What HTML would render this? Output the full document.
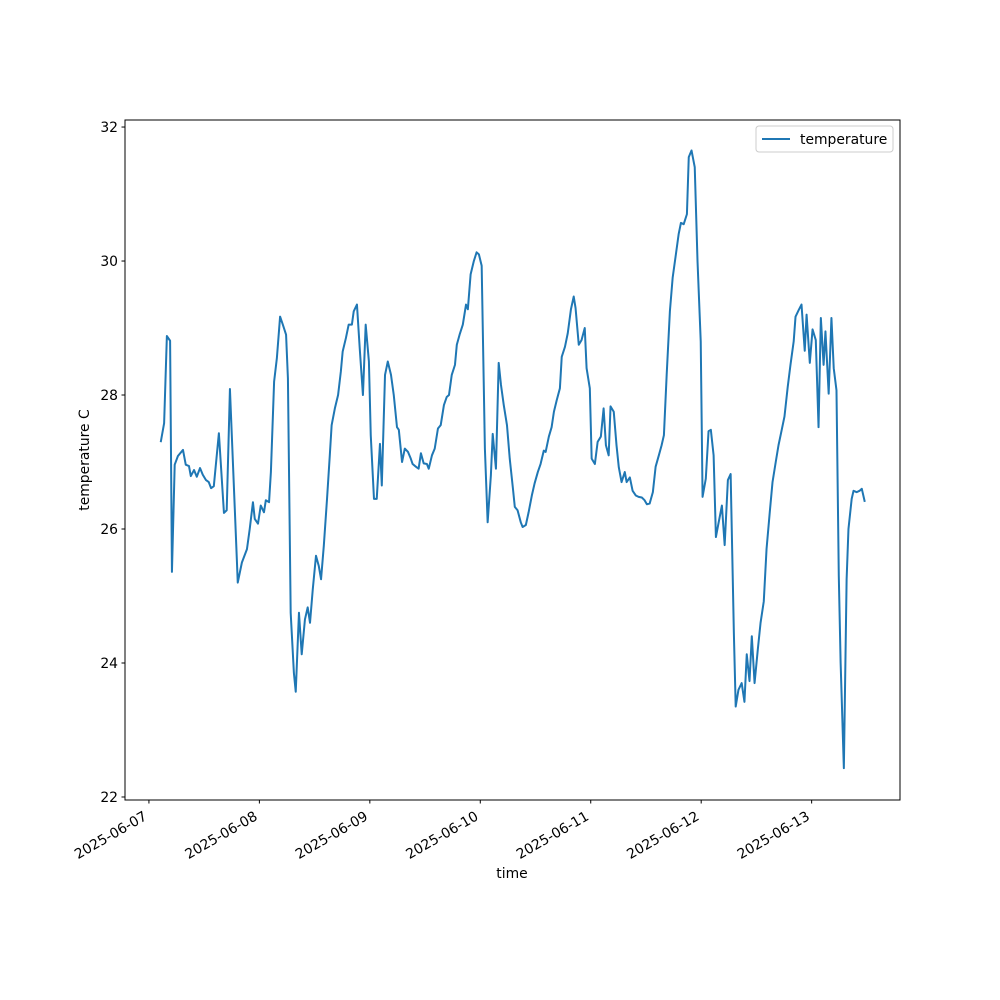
<!DOCTYPE html>
<html><head><meta charset="utf-8"><style>
body{margin:0;background:#fff}
svg{display:block;font-family:"DejaVu Sans","Liberation Sans",sans-serif}
</style></head><body>
<svg id="chart" width="1000" height="1000" viewBox="0 0 1000 1000">
<rect width="1000" height="1000" fill="#fff"/>
<g id="plot"></g>
</svg>
<script>
const dayLabels=["2025-06-07","2025-06-08","2025-06-09","2025-06-10","2025-06-11","2025-06-12","2025-06-13"];
const yTicks=[22,24,26,28,30,32];
const hours=[2.6,3.3,3.9,4.6,5.0,5.6,6.3,7.4,8.0,8.7,9.1,9.8,10.4,11.1,11.7,12.4,13.0,13.5,14.1,15.2,16.3,16.9,17.6,19.1,19.3,20.2,21.3,21.9,22.6,23.0,23.7,24.3,25.0,25.4,26.1,26.5,27.2,27.8,28.5,29.1,29.8,30.2,30.8,31.5,31.9,32.6,33.2,33.9,34.5,35.0,35.6,36.3,36.9,37.4,38.0,38.7,39.3,39.7,40.4,41.1,41.7,42.1,42.8,43.4,44.1,44.5,45.2,45.8,46.5,47.1,47.8,48.2,48.9,49.5,50.2,50.6,51.3,51.9,52.6,53.2,53.9,54.3,55.0,55.6,56.3,56.9,57.3,58.0,58.6,59.1,59.7,60.4,60.8,61.5,62.1,62.8,63.4,64.1,64.7,65.2,65.8,66.5,66.9,67.5,68.2,68.9,69.3,69.9,70.6,71.2,71.7,72.3,73.0,73.6,74.3,74.7,75.4,76.0,76.5,77.1,77.8,78.4,79.1,79.5,80.1,80.8,81.2,81.9,82.5,83.2,83.8,84.5,85.1,85.8,86.2,86.9,87.5,88.0,88.6,89.3,89.7,90.4,91.0,91.7,92.3,92.7,93.4,94.0,94.7,95.1,95.8,96.2,96.9,97.5,98.2,98.8,99.3,99.9,100.3,101.0,101.6,102.1,102.7,103.4,103.8,104.5,105.1,105.8,106.4,107.1,107.7,108.2,108.8,109.5,110.1,110.8,111.4,111.9,112.5,113.2,113.8,114.5,115.1,115.6,116.2,116.9,117.3,117.9,118.6,119.2,119.9,120.3,121.0,121.6,122.1,122.7,123.2,123.8,124.5,125.1,125.8,126.4,127.1,127.5,128.1,128.8,129.4,129.9,130.5,131.0,131.6,132.3,132.9,133.6,134.2,134.9,135.5,136.2,136.8,137.5,138.1,138.8,139.4,140.1,140.5,141.2,141.8,142.5,142.9,143.6,144.2,144.9,145.5,146.0,146.6,147.0,147.7,148.3,148.8,149.4,149.9,150.3,151.0,151.6,152.0,152.7,153.1,153.8,154.4,154.9,155.5];
const temps=[27.31,27.58,28.88,28.81,25.36,26.96,27.09,27.18,26.96,26.94,26.79,26.88,26.78,26.91,26.81,26.73,26.70,26.61,26.64,27.43,26.24,26.28,28.09,25.55,25.2,25.5,25.7,26.0,26.4,26.15,26.08,26.35,26.25,26.43,26.4,26.85,28.2,28.55,29.17,29.05,28.9,28.25,24.75,23.85,23.57,24.75,24.13,24.65,24.83,24.6,25.1,25.6,25.45,25.25,25.75,26.45,27.1,27.55,27.8,28.0,28.35,28.65,28.85,29.05,29.05,29.25,29.35,28.7,28.0,29.05,28.5,27.4,26.45,26.45,27.27,26.65,28.3,28.5,28.3,28.0,27.52,27.48,27.0,27.2,27.15,27.05,26.97,26.93,26.9,27.13,26.98,26.97,26.9,27.1,27.2,27.5,27.55,27.85,27.97,28.0,28.3,28.45,28.75,28.9,29.05,29.35,29.28,29.8,30.0,30.13,30.1,29.93,27.2,26.1,26.8,27.42,26.9,28.48,28.15,27.85,27.55,27.05,26.6,26.33,26.28,26.1,26.03,26.06,26.25,26.5,26.68,26.85,26.97,27.17,27.15,27.38,27.52,27.75,27.92,28.1,28.57,28.72,28.92,29.28,29.47,29.3,28.75,28.82,29.0,28.4,28.1,27.05,26.97,27.3,27.38,27.8,27.25,27.1,27.83,27.75,27.25,26.92,26.7,26.85,26.7,26.77,26.57,26.5,26.48,26.47,26.43,26.37,26.38,26.55,26.93,27.1,27.25,27.4,28.3,29.25,29.75,30.1,30.4,30.57,30.55,30.7,31.55,31.65,31.4,30.0,28.8,26.48,26.75,27.46,27.48,27.1,25.88,26.1,26.35,25.76,26.73,26.82,24.45,23.35,23.6,23.7,23.42,24.13,23.73,24.4,23.7,24.2,24.6,24.92,25.7,26.25,26.7,27.0,27.25,27.48,27.68,28.12,28.45,28.8,29.17,29.27,29.35,28.66,29.2,28.48,28.98,28.82,27.52,29.15,28.45,28.95,28.02,29.15,28.4,28.07,25.3,24.0,22.43,25.25,26.0,26.45,26.57,26.55,26.57,26.6,26.42];

const L=125,R=900,T=120,B=800;
const xMin=-5.2,xMax=163.2,yMin=21.955,yMax=32.105;
const xs=h=>L+(h-xMin)/(xMax-xMin)*(R-L);
const ys=v=>B-(v-yMin)/(yMax-yMin)*(B-T);
const NS="http://www.w3.org/2000/svg";
const g=document.getElementById('plot');
function mk(tag,attrs,parent){const e=document.createElementNS(NS,tag);for(const k in attrs)e.setAttribute(k,attrs[k]);(parent||g).appendChild(e);return e;}

let d="";
hours.forEach((h,i)=>{d+=(i?"L":"M")+xs(h).toFixed(2)+","+ys(temps[i]).toFixed(2);});
const line=mk('path',{d:d,fill:'none',stroke:'#1f77b4','stroke-width':2,'stroke-linejoin':'round','stroke-linecap':'square'});



const frame=mk('rect',{x:L,y:T,width:R-L,height:B-T,fill:'none',stroke:'#000','stroke-width':1});



yTicks.forEach(v=>{
  const y=ys(v);
  const t=mk('line',{x1:L-3.5,x2:L,y1:y,y2:y,stroke:'#000','stroke-width':1});
  
  
  const tx=mk('text',{x:L-7,y:y+5,'text-anchor':'end','font-size':13.9});
  tx.textContent=v;
  
  
});
dayLabels.forEach((lab,i)=>{
  const x=xs(i*24);
  const t=mk('line',{x1:x,x2:x,y1:B,y2:B+3.5,stroke:'#000','stroke-width':1});
  
  
  const tx=mk('text',{x:x-1,y:B+19,'text-anchor':'end','font-size':13.9,transform:`rotate(-30 ${x-1} ${B+19})`});
  tx.textContent=lab;
  
  
});
const xl=mk('text',{x:512,y:878,'text-anchor':'middle','font-size':13.9});
xl.textContent='time';


const yl=mk('text',{x:89,y:460,'text-anchor':'middle','font-size':13.9,transform:'rotate(-90 89 460)'});
yl.textContent='temperature C';



const lg=mk('g',{});


mk('rect',{x:756,y:126,width:137,height:26,rx:3,fill:'#fff',stroke:'#ccc','stroke-width':1},lg);
const ll=mk('line',{x1:762,x2:790,y1:139,y2:139,stroke:'#1f77b4','stroke-width':2},lg);


const lt=mk('text',{x:800,y:144,'font-size':13.9},lg);
lt.textContent='temperature';


</script>
</body></html>
